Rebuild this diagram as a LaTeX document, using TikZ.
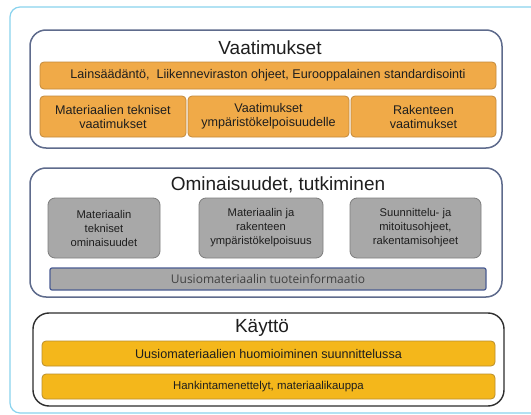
\documentclass[tikz,border=0pt]{standalone}
\usepackage{fontspec}
\setmainfont{Liberation Sans}
\newfontfamily\barfont{Open Sans}
\definecolor{framec}{HTML}{8AD3EE}
\definecolor{groupc}{HTML}{5E6B8C}
\definecolor{kayttoc}{HTML}{2E2E2E}
\definecolor{orangef}{HTML}{F0AA48}
\definecolor{oranged}{HTML}{C38A3C}
\definecolor{yellowf}{HTML}{F4B71B}
\definecolor{yellowd}{HTML}{B98E2A}
\definecolor{grayf}{HTML}{A8A8A8}
\definecolor{grayd}{HTML}{7E7E7E}
\definecolor{barblue}{HTML}{4A5C92}
\definecolor{txt}{HTML}{1E1E1E}
\tikzset{
  px/.style={x=1pt,y=-1pt},
  groupbox/.style={draw=groupc,line width=1.5pt,rounded corners=16pt,fill=white},
  grouptitle/.style={font=\fontsize{19}{21}\selectfont,text=txt,inner sep=0pt},
  orangebox/.style={draw=oranged,line width=0.8pt,fill=orangef,rounded corners=4pt,text=txt,align=center,font=\fontsize{12.6}{14}\selectfont},
  yellowbox/.style={draw=yellowd,line width=0.8pt,fill=yellowf,rounded corners=4pt,text=txt,align=center},
  graybox/.style={draw=grayd,line width=0.8pt,fill=grayf,rounded corners=7pt,text=txt,align=center,font=\fontsize{11.2}{14}\selectfont},
}
\newcommand{\boxnode}[6]{% style, name, x1, y1, x2, y2 ... text via separate arg
}
\begin{document}
\begin{tikzpicture}[px]
\useasboundingbox (0,0) rectangle (531,415);
\fill[white] (0,0) rectangle (531,415);
\begin{scope}
\clip (0,0) rectangle (531,415);
\draw[framec,line width=1.2pt,rounded corners=10pt] (10,7) rectangle (560,413);
\end{scope}

% Vaatimukset group
\draw[groupbox] (30,30) rectangle (502,148);
\node[grouptitle] (vt) at (270,48) {Vaatimukset};
\draw[orangebox] (40,62) rectangle (496,89) node[midway] (law) {Lainsäädäntö,\ \ Liikenneviraston ohjeet, Eurooppalainen standardisointi};
\draw[orangebox] (40,96) rectangle (186,137) node[midway] (mtv) {Materiaalien tekniset\\vaatimukset};
\draw[orangebox] (188,96) rectangle (349,137) node[midway] (vyp) {Vaatimukset\\ympäristökelpoisuudelle};
\draw[orangebox] (351,96) rectangle (496,137) node[midway] (rv) {Rakenteen\\vaatimukset};

% Ominaisuudet group
\draw[groupbox] (30,168) rectangle (502,297);
\node[grouptitle] (ot) at (278,185) {Ominaisuudet, tutkiminen};
\draw[graybox] (48,198) rectangle (160,258) node[midway] (g1) {Materiaalin\\tekniset\\ominaisuudet};
\draw[graybox] (199,198) rectangle (323,258) node[midway] (g2) {Materiaalin ja\\rakenteen\\ympäristökelpoisuus};
\draw[graybox] (350,198) rectangle (481,258) node[midway] (g3) {Suunnittelu- ja\\mitoitusohjeet,\\rakentamisohjeet};
\draw[draw=barblue,line width=1.2pt,fill=grayf,rounded corners=2pt] (50,268) rectangle (486,290) node[midway,text=txt!85,font=\barfont\fontsize{12}{14}\selectfont] (tuote) {Uusiomateriaalin tuoteinformaatio};

% Kayttö group
\draw[draw=kayttoc,line width=1.4pt,rounded corners=16pt,fill=white] (33,313) rectangle (504,406);
\node[grouptitle] (kt) at (262,328) {Käyttö};
\draw[yellowbox] (42,341) rectangle (495,366) node[midway,font=\fontsize{12.6}{14}\selectfont] (y1) {Uusiomateriaalien huomioiminen suunnittelussa};
\draw[yellowbox] (42,374) rectangle (495,399) node[midway,font=\fontsize{11.4}{14}\selectfont] (y2) {Hankintamenettelyt, materiaalikauppa};
\end{tikzpicture}
\end{document}
